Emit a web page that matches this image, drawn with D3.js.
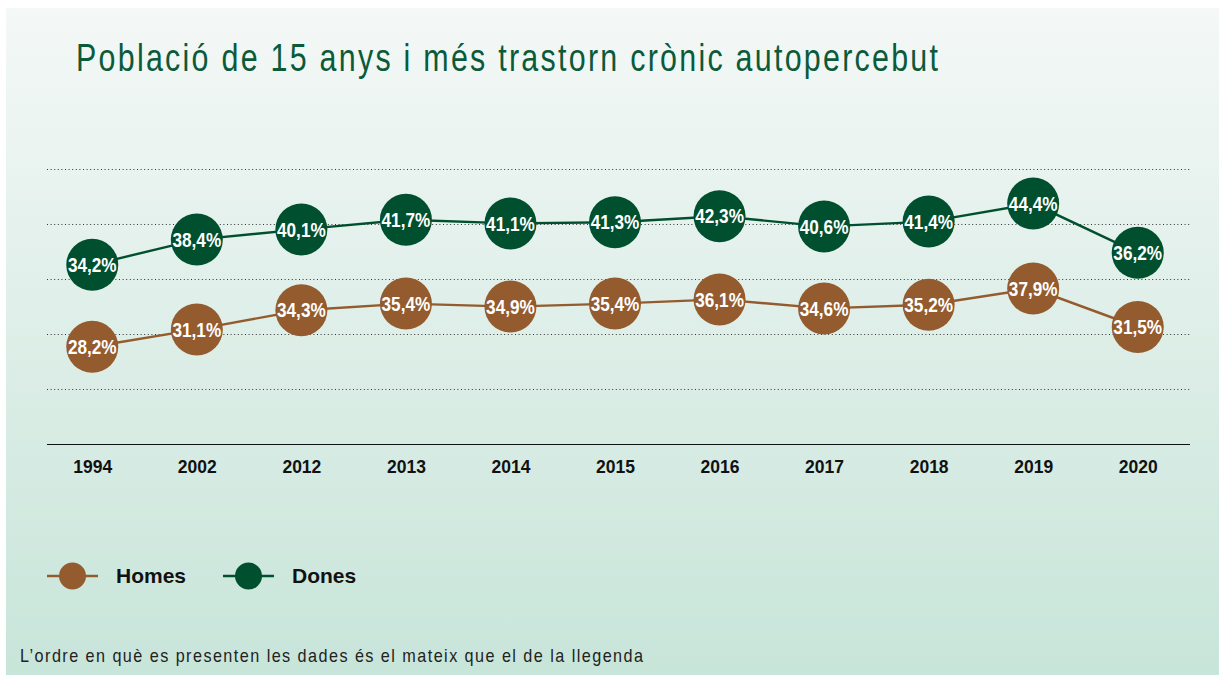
<!doctype html>
<html>
<head>
<meta charset="utf-8">
<script src="https://d3js.org/d3.v7.min.js"></script>
<style>
  body { margin: 0; background: #fff; }
</style>
</head>
<body>
<script>
    // data
    var years = ["1994", "2002", "2012", "2013", "2014", "2015", "2016", "2017", "2018", "2019", "2020"];
    var homes = [28.2, 31.1, 34.3, 35.4, 34.9, 35.4, 36.1, 34.6, 35.2, 37.9, 31.5];
    var dones = [34.2, 38.4, 40.1, 41.7, 41.1, 41.3, 42.3, 40.6, 41.4, 44.4, 36.2];
    var seriesNames = ["Homes", "Dones"];

    var width = 1222, height = 675;
    var brown = "#935b2e", green = "#00502f";
    var sans = "'Liberation Sans', Arial, sans-serif";

    var svg = d3.select("body").append("svg")
        .attr("width", width)
        .attr("height", height)
        .style("display", "block");

    // background panel with vertical gradient
    var grad = svg.append("defs").append("linearGradient")
        .attr("id", "bg").attr("x1", 0).attr("y1", 0).attr("x2", 0).attr("y2", 1);
    grad.append("stop").attr("offset", "0%").attr("stop-color", "#f4f8f7");
    grad.append("stop").attr("offset", "55%").attr("stop-color", "#dbede6");
    grad.append("stop").attr("offset", "100%").attr("stop-color", "#c8e5da");

    svg.append("rect")
        .attr("x", 6).attr("y", 8)
        .attr("width", 1213).attr("height", 667)
        .attr("fill", "url(#bg)");

    // no condensed font installed: squeeze a normal one horizontally
    function narrowText(parent, x, y, sx, str, size, totalWidth) {
        var g = parent.append("g")
            .attr("transform", "translate(" + x + "," + y + ") scale(" + sx + ",1)");
        var t = g.append("text")
            .attr("font-family", sans)
            .attr("font-size", size)
            .text(str);
        if (totalWidth) {
            t.attr("textLength", totalWidth / sx).attr("lengthAdjust", "spacing");
        }
        return t;
    }

    // title
    narrowText(svg, 76, 71, 0.8, "Població de 15 anys i més trastorn crònic autopercebut", 38, 862)
        .attr("fill", "#0b5a3a");

    // scales: the reference places each series in its own band, so one scale per series
    var x = d3.scalePoint().domain(years).range([40, 1190]).padding(0.5);
    var yDones = d3.scaleLinear().domain([30, 50]).range([290, 170]);
    var yHomes = d3.scaleLinear().domain([25, 45]).range([366, 246]);

    // dotted grid lines
    var gridY = d3.range(5).map(function(i) { return 169 + i * 55; });
    svg.selectAll(".grid")
        .data(gridY)
        .enter().append("line")
        .attr("x1", 47).attr("x2", 1190)
        .attr("y1", function(d) { return d + 0.5; })
        .attr("y2", function(d) { return d + 0.5; })
        .attr("stroke", "#333")
        .attr("stroke-width", 1)
        .attr("stroke-dasharray", "1,2.6");

    // x axis
    var xAxis = svg.append("g")
        .attr("transform", "translate(0,444)")
        .call(d3.axisBottom(x).tickSize(0).tickPadding(17));
    xAxis.select(".domain").remove();
    xAxis.append("line")
        .attr("x1", 47).attr("x2", 1190)
        .attr("y1", 0.5).attr("y2", 0.5)
        .attr("stroke", "#111").attr("stroke-width", 1.2);
    xAxis.selectAll("text")
        .attr("font-family", sans)
        .attr("font-weight", "bold")
        .attr("font-size", 17.5)
        .attr("fill", "#111");

    var series = [
        { name: seriesNames[0], values: homes, y: yHomes, color: brown },
        { name: seriesNames[1], values: dones, y: yDones, color: green }
    ];

    series.forEach(function(s) {
        var line = d3.line()
            .x(function(d, i) { return x(years[i]); })
            .y(function(d) { return s.y(d); });

        svg.append("path")
            .datum(s.values)
            .attr("d", line)
            .attr("fill", "none")
            .attr("stroke", s.color)
            .attr("stroke-width", 2.4);

        var pts = svg.append("g").selectAll("g")
            .data(s.values)
            .enter().append("g")
            .attr("transform", function(d, i) {
                return "translate(" + x(years[i]) + "," + s.y(d) + ")";
            });

        pts.append("circle")
            .attr("r", 26)
            .attr("fill", s.color);

        pts.append("text")
            .attr("transform", "scale(0.86,1)")
            .attr("text-anchor", "middle")
            .attr("dy", "0.36em")
            .attr("font-family", sans)
            .attr("font-weight", "bold")
            .attr("font-size", 20)
            .attr("fill", "#fff")
            .text(function(d) { return d3.format(".1f")(d).replace(".", ",") + "%"; });
    });

    // legend
    var legend = svg.append("g").attr("transform", "translate(0,576)");
    var legX = [47, 223];
    series.forEach(function(s, i) {
        var g = legend.append("g").attr("transform", "translate(" + legX[i] + ",0)");
        g.append("line")
            .attr("x1", 0).attr("x2", 51)
            .attr("stroke", s.color).attr("stroke-width", 2.4);
        g.append("circle")
            .attr("cx", 25.5).attr("r", 13.5)
            .attr("fill", s.color);
        g.append("text")
            .attr("x", 69).attr("dy", "0.35em")
            .attr("font-family", sans)
            .attr("font-weight", "bold")
            .attr("font-size", 21)
            .attr("fill", "#111")
            .text(s.name);
    });

    // footnote
    narrowText(svg, 20, 662, 0.9, "L’ordre en què es presenten les dades és el mateix que el de la llegenda", 18, 623)
        .attr("fill", "#222");
</script>
</body>
</html>
